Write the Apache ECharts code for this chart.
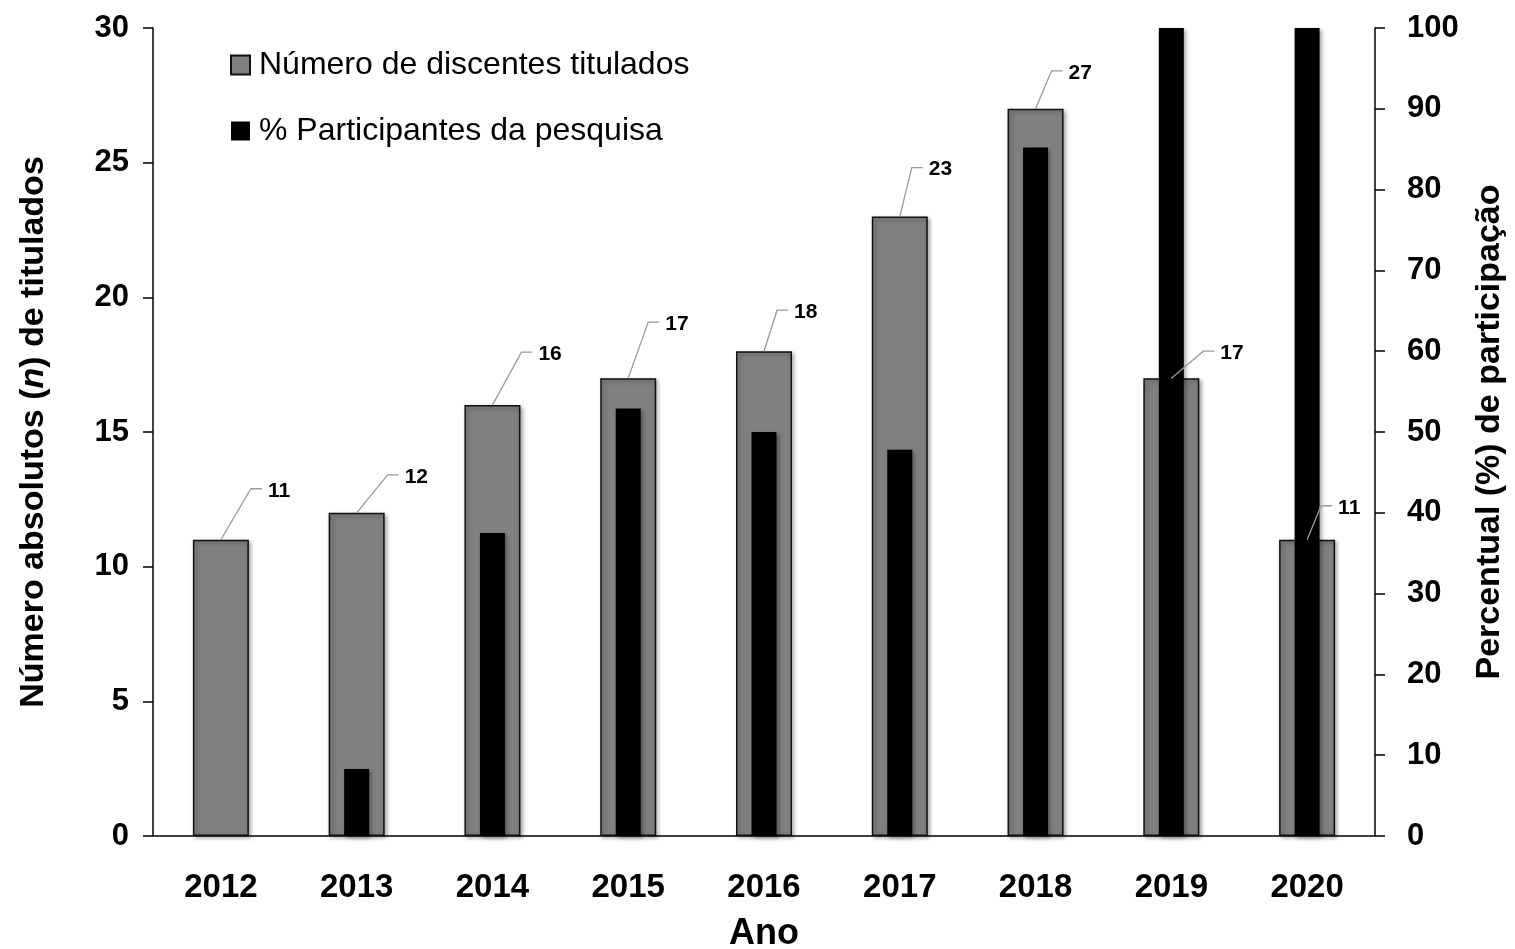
<!DOCTYPE html>
<html>
<head>
<meta charset="utf-8">
<script src="https://cdn.jsdelivr.net/npm/echarts@6/dist/echarts.min.js"></script>
<style>
  html, body { margin: 0; padding: 0; background: #fff; }
  #chart { width: 1515px; height: 949px; }
</style>
</head>
<body>
<div id="chart"></div>
<script>
const years = ['2012', '2013', '2014', '2015', '2016', '2017', '2018', '2019', '2020']
const titulados = [11, 12, 16, 17, 18, 23, 27, 17, 11]
const participantes = [0, 8.3, 37.5, 52.9, 50, 47.8, 85.2, 100, 100]
const leftTicks = [0, 5, 10, 15, 20, 25, 30]
const rightTicks = [0, 10, 20, 30, 40, 50, 60, 70, 80, 90, 100]

// where each value label's leader line bends, relative to the bar top
const labelBend = [[30, -51], [31, -38], [29, -53], [20, -56], [13, -41], [12, -49], [16, -38], [32, -27], [14, -34]]

const FONT = "'Liberation Sans Narrow', 'Arial Narrow', 'Liberation Sans', Arial, sans-serif"

const chart = echarts.init(document.getElementById('chart'))

const axisLineStyle = { color: '#000', width: 1.5 }

chart.setOption({
  animation: false,
  textStyle: { fontFamily: FONT, color: '#000' },
  grid: { left: 153, right: 140, top: 28, bottom: 113, containLabel: false, outerBoundsMode: 'none' },
  legend: {
    orient: 'vertical',
    left: 225,
    top: 42,
    itemWidth: 19,
    itemHeight: 19,
    itemGap: 30,
    icon: 'rect',
    textStyle: { fontFamily: FONT, fontSize: 32, color: '#000', lineHeight: 36, padding: [0, 0, 0, 4] },
    data: ['Número de discentes titulados', '% Participantes da pesquisa'],
  },
  xAxis: [
    {
      type: 'category',
      data: years,
      name: 'Ano',
      nameLocation: 'middle',
      nameGap: 80,
      nameTextStyle: { fontFamily: FONT, fontSize: 36, fontWeight: 'bold', color: '#000' },
      axisLine: { lineStyle: axisLineStyle },
      axisTick: { length: 10, lineStyle: axisLineStyle },
      axisLabel: { margin: 35, fontFamily: FONT, fontSize: 33, fontWeight: 'bold', color: '#000' },
    },
    {
      type: 'category',
      data: years,
      show: false,
    },
  ],
  yAxis: [
    {
      type: 'value',
      min: leftTicks[0],
      max: leftTicks[leftTicks.length - 1],
      interval: leftTicks[1] - leftTicks[0],
      name: '{a|Número absolutos (}{i|n}{a|) de titulados}',
      nameLocation: 'middle',
      nameGap: 102,
      nameTextStyle: {
        rich: {
          a: { fontFamily: FONT, fontSize: 34, fontWeight: 'bold', color: '#000' },
          i: { fontFamily: FONT, fontSize: 34, fontWeight: 'bold', fontStyle: 'italic', color: '#000' },
        },
      },
      axisLine: { show: true, lineStyle: axisLineStyle },
      axisTick: { show: true, length: 10, lineStyle: axisLineStyle },
      axisLabel: { margin: 24, fontFamily: FONT, fontSize: 31, fontWeight: 'bold', color: '#000' },
      splitLine: { show: false },
    },
    {
      type: 'value',
      min: rightTicks[0],
      max: rightTicks[rightTicks.length - 1],
      interval: rightTicks[1] - rightTicks[0],
      name: 'Percentual (%) de participação',
      nameLocation: 'middle',
      nameGap: 98,
      nameRotate: 90,
      nameTextStyle: { fontFamily: FONT, fontSize: 34, fontWeight: 'bold', color: '#000' },
      axisLine: { show: true, lineStyle: axisLineStyle },
      axisTick: { show: true, length: 10, lineStyle: axisLineStyle },
      axisLabel: { margin: 32, fontFamily: FONT, fontSize: 31, fontWeight: 'bold', color: '#000' },
      splitLine: { show: false },
    },
  ],
  series: [
    {
      name: 'Número de discentes titulados',
      type: 'bar',
      xAxisIndex: 0,
      yAxisIndex: 0,
      barWidth: 56,
      z: 2,
      data: titulados,
      itemStyle: {
        color: '#808080',
        borderColor: '#111',
        borderWidth: 1.5,
        shadowBlur: 4,
        shadowOffsetX: 2,
        shadowOffsetY: 2,
        shadowColor: 'rgba(0,0,0,0.35)',
      },
    },
    {
      name: '% Participantes da pesquisa',
      type: 'bar',
      xAxisIndex: 1,
      yAxisIndex: 1,
      barWidth: 25,
      z: 3,
      data: participantes,
      itemStyle: {
        color: '#000',
        shadowBlur: 4,
        shadowOffsetX: 2,
        shadowOffsetY: 2,
        shadowColor: 'rgba(0,0,0,0.35)',
      },
    },
    {
      type: 'custom',
      xAxisIndex: 0,
      yAxisIndex: 0,
      z: 5,
      silent: true,
      data: titulados.map((v, i) => [i, v]),
      renderItem: (params, api) => {
        const top = api.coord([api.value(0), api.value(1)])
        const bend = labelBend[params.dataIndex]
        const bx = top[0] + bend[0]
        const by = top[1] + bend[1]
        return {
          type: 'group',
          children: [
            {
              type: 'polyline',
              shape: { points: [top, [bx, by], [bx + 11, by]] },
              style: { stroke: '#9a9a9a', lineWidth: 1.3, fill: null },
            },
            {
              type: 'text',
              style: {
                x: bx + 17,
                y: by + 2,
                text: String(api.value(1)),
                fontFamily: FONT,
                fontSize: 21,
                fontWeight: 'bold',
                fill: '#000',
                align: 'left',
                verticalAlign: 'middle',
              },
            },
          ],
        }
      },
    },
  ],
})
</script>
</body>
</html>
